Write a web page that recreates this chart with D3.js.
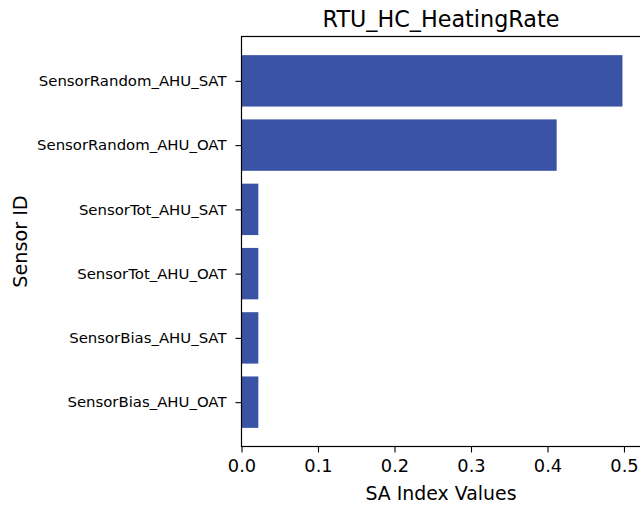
<!DOCTYPE html>
<html>
<head>
<meta charset="utf-8">
<script src="https://cdn.jsdelivr.net/npm/d3@7"></script>
<style>
  body { margin: 0; background: #fff; }
  svg { font-family: "DejaVu Sans", sans-serif; }
</style>
</head>
<body>
<div id="chart"></div>
<script>
// top to bottom, as shown
const sensors = [
  "SensorRandom_AHU_SAT",
  "SensorRandom_AHU_OAT",
  "SensorTot_AHU_SAT",
  "SensorTot_AHU_OAT",
  "SensorBias_AHU_SAT",
  "SensorBias_AHU_OAT"
];
const saValues = [0.498, 0.412, 0.022, 0.022, 0.022, 0.022];
const xTicks = [0.0, 0.1, 0.2, 0.3, 0.4, 0.5];

const width = 640, height = 507;
const plotLeft = 241.5, plotTop = 36.5, plotBottom = 446.5;
const plotRight = plotLeft + 400;
const barFill = "#3a53a4";

const svg = d3.select("#chart").append("svg")
  .attr("width", width)
  .attr("height", height);

const x = d3.scaleLinear()
  .domain([0, d3.max(saValues) * 1.05])
  .range([plotLeft, plotRight]);

// matplotlib-like band: step 1, bar 0.8, margin 0.05 of span
const n = sensors.length;
const span = (n - 1) + 0.8;
const pad = span * 0.05;
const yPos = d3.scaleLinear()
  .domain([-0.4 - pad, (n - 1) + 0.4 + pad])
  .range([plotTop, plotBottom]);
const step = Math.abs(yPos(1) - yPos(0));
const barH = step * 0.8;

svg.selectAll("rect.bar")
  .data(sensors)
  .enter()
  .append("rect")
  .attr("class", "bar")
  .attr("x", x(0))
  .attr("y", (d, i) => yPos(i) - barH / 2)
  .attr("width", (d, i) => x(saValues[i]) - x(0))
  .attr("height", barH)
  .attr("fill", barFill);

// axes frame
svg.append("rect")
  .attr("x", plotLeft)
  .attr("y", plotTop)
  .attr("width", plotRight - plotLeft)
  .attr("height", plotBottom - plotTop)
  .attr("fill", "none")
  .attr("stroke", "#000")
  .attr("stroke-width", 1.2);

// x axis
const xAxis = d3.axisBottom(x)
  .tickValues(xTicks)
  .tickFormat(d3.format(".1f"))
  .tickSize(6)
  .tickPadding(7);

svg.append("g")
  .attr("transform", `translate(0,${plotBottom})`)
  .call(xAxis)
  .call(g => g.select(".domain").remove())
  .call(g => g.selectAll("line").attr("stroke", "#000").attr("stroke-width", 1.1))
  .call(g => g.selectAll("text").attr("font-size", 17.8).attr("fill", "#000")
    .attr("font-family", "DejaVu Sans"));

// y axis
const yBand = d3.scalePoint()
  .domain(sensors)
  .range([yPos(0), yPos(n - 1)]);

svg.append("g")
  .attr("transform", `translate(${plotLeft},0)`)
  .call(d3.axisLeft(yBand).tickSize(6).tickPadding(9))
  .call(g => g.select(".domain").remove())
  .call(g => g.selectAll("line").attr("stroke", "#000").attr("stroke-width", 1.1))
  .call(g => g.selectAll("text").attr("font-size", 14.9).attr("fill", "#000")
    .attr("font-family", "DejaVu Sans"));

// labels
svg.append("text")
  .attr("x", 441)
  .attr("y", 27)
  .attr("text-anchor", "middle")
  .attr("font-size", 22.3)
  .text("RTU_HC_HeatingRate");

svg.append("text")
  .attr("x", 441)
  .attr("y", 500)
  .attr("text-anchor", "middle")
  .attr("font-size", 18.9)
  .text("SA Index Values");

svg.append("text")
  .attr("transform", `translate(27,${(plotTop + plotBottom) / 2}) rotate(-90)`)
  .attr("text-anchor", "middle")
  .attr("font-size", 19.2)
  .text("Sensor ID");
</script>
</body>
</html>
